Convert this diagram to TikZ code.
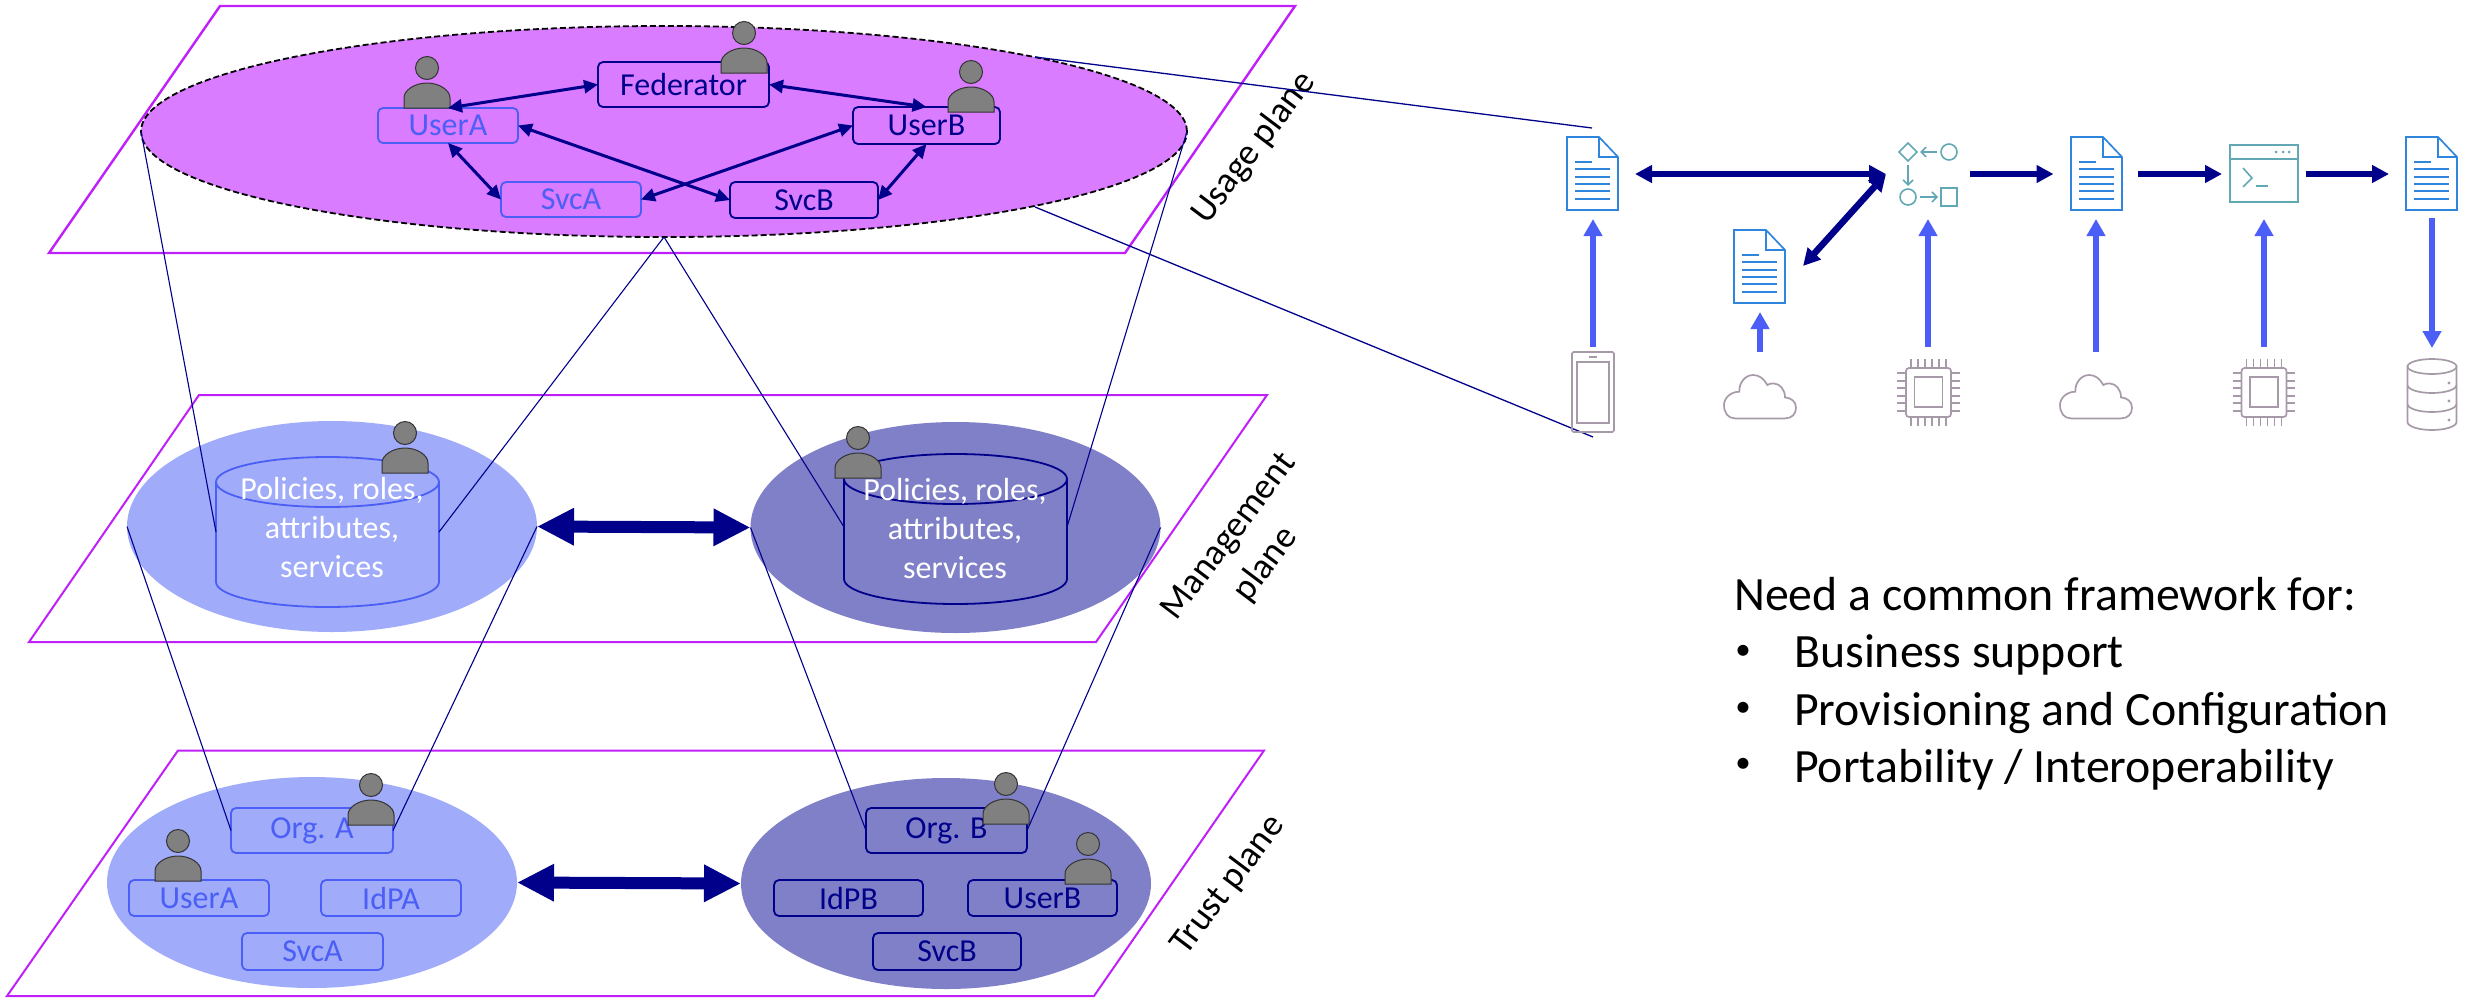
\documentclass[tikz,border=0pt]{standalone}
\usepackage{fontspec}
\setmainfont{Carlito}
\usetikzlibrary{arrows.meta,shapes.geometric}
\definecolor{planec}{HTML}{BF20FA}
\definecolor{usagefill}{HTML}{D97CFF}
\definecolor{lightfill}{HTML}{A0ABF9}
\definecolor{darkfill}{HTML}{8080C8}
\definecolor{navy}{HTML}{00008B}
\definecolor{bluea}{HTML}{4B5EF5}
\definecolor{docblue}{HTML}{2F86DC}
\definecolor{tealc}{HTML}{62A8B4}
\definecolor{greyc}{HTML}{A79AA8}
\tikzset{
  plane/.style={draw=planec,line width=2.4pt,line join=miter},
  regionl/.style={ellipse,fill=lightfill,inner sep=0pt,outer sep=0pt,minimum width=410pt,minimum height=211pt},
  regiond/.style={ellipse,fill=darkfill,inner sep=0pt,outer sep=0pt,minimum width=410pt,minimum height=211pt},
  boxl/.style={draw=bluea,line width=1.8pt,rounded corners=5pt,inner sep=0pt,outer sep=0pt,text=bluea,font=\fontsize{32}{36}\selectfont},
  boxd/.style={draw=navy,line width=1.8pt,rounded corners=5pt,inner sep=0pt,outer sep=0pt,text=navy,font=\fontsize{32}{36}\selectfont},
  thinline/.style={draw=navy,line width=1.1pt},
  linkarrow/.style={draw=navy,line width=3pt,{Triangle[length=14pt,width=13pt]}-{Triangle[length=14pt,width=13pt]}},
  bigdouble/.style={draw=navy,line width=12pt,{Triangle[length=37pt,width=35pt]}-{Triangle[length=37pt,width=35pt]}},
  flowdouble/.style={draw=navy,line width=6.5pt,{Triangle[length=17pt,width=17pt]}-{Triangle[length=17pt,width=17pt]}},
  flowone/.style={draw=navy,line width=6.5pt,-{Triangle[length=17pt,width=17pt]}},
  feed/.style={draw=bluea,line width=6.5pt,-{Triangle[length=17pt,width=18pt]}},
  planelabel/.style={font=\fontsize{36.5}{46}\selectfont,align=center,text=black,inner sep=0pt},
  persona/.style={fill=gray,draw=black!80,line width=1pt},
  iconline/.style={draw=greyc,line width=1.7pt},
  docline/.style={draw=docblue,line width=1.7pt},
  tealline/.style={draw=tealc,line width=1.6pt},
  tealarrow/.style={draw=tealc,line width=1.6pt,-{Straight Barb[length=5pt,width=10pt]}},
  cyltext/.style={text=white,font=\fontsize{32}{39}\selectfont,align=center,inner sep=0pt},
  bigtext/.style={anchor=base west,inner sep=0pt,font=\fontsize{47.8}{56}\selectfont},
  bullettext/.style={anchor=center,inner sep=0pt,font=\fontsize{31}{36}\selectfont}
}
\newcommand{\personat}[2]{%
  \begin{scope}[shift={(#1,#2)}]
    \draw[persona] (-23,0) -- (-23,-10) .. controls (-23,-18) and (-12,-25) .. (0,-25) .. controls (12,-25) and (23,-18) .. (23,-10) -- (23,0) -- cycle;
    \draw[persona] (0,-40) circle [radius=11.5];
  \end{scope}}
\newcommand{\docat}[2]{%
  \begin{scope}[shift={(#1,#2)}]
    \draw[docline] (0,0) -- (32,0) -- (51,20) -- (51,73) -- (0,73) -- cycle;
    \draw[docline] (32,0) -- (32,20) -- (51,20);
    \draw[docline] (8,25) -- (25,25);
    \foreach \ly in {32,40,47,54,62} {\draw[docline] (8,\ly) -- (43,\ly);}
  \end{scope}}
\newcommand{\cloudat}[2]{%
  \begin{scope}[shift={(#1,#2)}]
    \draw[iconline] (-25,21.7) -- (25,21.7) .. controls (32,21.7) and (36,17) .. (36,11) .. controls (36,5) and (31,1) .. (25,0.7) .. controls (25,-7) and (20,-13.3) .. (13.3,-13.3) .. controls (11,-13.3) and (9,-12.8) .. (7.3,-11.7) .. controls (4,-18) and (-1,-21.7) .. (-6.7,-21.7) .. controls (-15,-21.7) and (-21,-14) .. (-20.7,-5) .. controls (-29,-5) and (-36,1) .. (-36,8.3) .. controls (-36,16) and (-32,21.7) .. (-25,21.7) -- cycle;
  \end{scope}}
\newcommand{\chipat}[2]{%
  \begin{scope}[shift={(#1,#2)}]
    \draw[iconline,rounded corners=3pt] (-22.5,-24.5) rectangle (22.5,24.5);
    \draw[iconline] (-14,-15.5) rectangle (14,14.5);
    \foreach \p in {-17.5,-10.5,-3.5,3.5,10.5,17.5} {
      \draw[iconline] (\p,-33.5) -- (\p,-24.5);
      \draw[iconline] (\p,24.5) -- (\p,33.5);
    }
    \foreach \p in {-19.5,-11.5,-4.5,3.5,10.5,18.5} {
      \draw[iconline] (-31.5,\p) -- (-22.5,\p);
      \draw[iconline] (22.5,\p) -- (31,\p);
    }
  \end{scope}}
\newcommand{\lowerarc}[4]{% centre x, y, rx, ry
  ({#1-#3},#2) .. controls ({#1-#3},{#2+0.552*#4}) and ({#1-0.552*#3},{#2+#4}) .. (#1,{#2+#4}) .. controls ({#1+0.552*#3},{#2+#4}) and ({#1+#3},{#2+0.552*#4}) .. ({#1+#3},#2)}
\begin{document}
\begin{tikzpicture}[x=1pt,y=-1pt]
\useasboundingbox (0,0) rectangle (2473,997);
% planes
\draw[plane] (220,6) -- (1295,6) -- (1125,253) -- (49,253) -- cycle;
\draw[plane,line width=2pt] (199,395) -- (1267,395) -- (1096,642) -- (29,642) -- cycle;
\draw[plane,line width=2pt] (178,750.5) -- (1264,750.5) -- (1094,996) -- (7,996) -- cycle;
% regions
\node[ellipse,fill=usagefill,draw=black,line width=1.8pt,dash pattern=on 6pt off 3pt,inner sep=0pt,outer sep=0pt,minimum width=1046pt,minimum height=211pt] (eu) at (664,131.5) {};
\node[regionl] (ma) at (332,526.5) {};
\node[regiond] (mb) at (955.5,527.5) {};
\node[regionl] (ta) at (312,882.5) {};
\node[regiond] (tb) at (946,883.5) {};
% cylinders
\draw[draw=bluea,line width=1.8pt] (327.5,482) circle [x radius=111.5,y radius=25];
\draw[draw=bluea,line width=1.8pt] (216,482) -- (216,582) \lowerarc{327.5}{582}{111.5}{25} -- (439,482);
\draw[draw=navy,line width=1.8pt] (955.5,479) circle [x radius=111.5,y radius=25];
\draw[draw=navy,line width=1.8pt] (844,479) -- (844,579) \lowerarc{955.5}{579}{111.5}{25} -- (1067,479);
\coordinate (cal) at (216,532);
\coordinate (car) at (439,532);
\coordinate (cbl) at (844,527);
\coordinate (cbr) at (1067,527);
\node[cyltext] (cta) at (332,527) {Policies, roles,\\attributes,\\services};
\node[cyltext] (ctb) at (955,528) {Policies, roles,\\attributes,\\services};
% boxes
\node[boxd,fill=none,minimum width=171pt,minimum height=45pt] (fed) at (683.5,84.5) {Federator};
\node[boxl,minimum width=140pt,minimum height=35pt] (ua) at (448,125.5) {UserA};
\node[boxd,minimum width=147pt,minimum height=37pt] (ub) at (926.5,125.5) {UserB};
\node[boxl,minimum width=140pt,minimum height=35pt] (sa) at (571,199.5) {SvcA};
\node[boxd,minimum width=148pt,minimum height=36pt] (sb) at (804,200) {SvcB};
\node[boxl,minimum width=162pt,minimum height=45pt] (oa) at (312,830.5) {Org. A};
\node[boxl,minimum width=140pt,minimum height=36pt] (tua) at (199,898) {UserA};
\node[boxl,minimum width=140pt,minimum height=36pt] (ida) at (391,898) {IdPA};
\node[boxl,minimum width=141pt,minimum height=37pt] (tsa) at (312.5,951.5) {SvcA};
\node[boxd,minimum width=161pt,minimum height=45pt] (ob) at (946.5,830.5) {Org. B};
\node[boxd,minimum width=149pt,minimum height=36pt] (idb) at (848.5,898) {IdPB};
\node[boxd,minimum width=149pt,minimum height=36pt] (tub) at (1042.5,898) {UserB};
\node[boxd,minimum width=148pt,minimum height=37pt] (tsb) at (947,951.5) {SvcB};
% persons
\personat{427}{108}
\personat{744}{73}
\personat{971}{112}
\personat{405}{473}
\personat{858}{478}
\personat{371}{825}
\personat{178}{881}
\personat{1006}{824}
\personat{1088}{884}
% links on usage plane
\draw[linkarrow] (ua.north) -- (fed.west);
\draw[linkarrow] (fed.east) -- (ub.north);
\draw[linkarrow] (ua.east) -- (sb.west);
\draw[linkarrow] (ub.west) -- (sa.east);
\draw[linkarrow] (ua.south) -- (sa.west);
\draw[linkarrow] (ub.south) -- (sb.east);
% thin projection lines
\coordinate (ebot) at (664,237);
\draw[thinline] (eu.west) -- (cal);
\draw[thinline] (ebot) -- (car);
\draw[thinline] (ebot) -- (cbl);
\draw[thinline] (eu.east) -- (cbr);
\draw[thinline] (ma.west) -- (oa.west);
\draw[thinline] (ma.east) -- (oa.east);
\draw[thinline] (mb.west) -- (ob.west);
\draw[thinline] (mb.east) -- (ob.east);
% big arrows
\draw[bigdouble] (ma.east) -- (mb.west);
\draw[bigdouble] (ta.east) -- (tb.west);
% plane labels
\node[planelabel,rotate=53] (lu) at (1254,148) {Usage plane};
\node[planelabel,rotate=53] (lm) at (1248,551) {Management\\plane};
\node[planelabel,rotate=53] (lt) at (1228,885) {Trust plane};
% zoom lines
\coordinate (zt) at (1592,128);
\coordinate (zb) at (1593,437);
\coordinate (es1) at (1035,57);
\coordinate (es2) at (1035,207);
\draw[thinline,line width=1.3pt] (es1) -- (zt);
\draw[thinline,line width=1.3pt] (es2) -- (zb);
% flow icons
\docat{1567}{137}
\docat{1734}{230}
\docat{2071}{137}
\docat{2406}{137}
\coordinate (d1) at (1635,174);
\coordinate (fl) at (1886,174);
\coordinate (d2) at (1803,266);
\coordinate (fr) at (1970,174);
\coordinate (d3l) at (2053.5,174);
\coordinate (d3r) at (2138,174);
\coordinate (tl) at (2222,174);
\coordinate (tr) at (2305.5,174);
\coordinate (d4l) at (2389,174);
\draw[flowdouble] (d1) -- (fl);
\draw[flowdouble] (d2) -- (fl);
\draw[flowone] (fr) -- (d3l);
\draw[flowone] (d3r) -- (tl);
\draw[flowone] (tr) -- (d4l);
% process icon
\draw[tealline] (1908,143) -- (1917,152) -- (1908,161) -- (1899,152) -- cycle;
\draw[tealline] (1949,152) circle [radius=8];
\draw[tealarrow] (1937,152) -- (1920,152);
\draw[tealarrow] (1908,165) -- (1908,186);
\draw[tealline] (1908,197) circle [radius=8];
\draw[tealarrow] (1920,197) -- (1938,197);
\draw[tealline] (1941,188) rectangle (1957,206);
% terminal icon
\draw[tealline] (2230,145) rectangle (2298,202);
\draw[tealline] (2230,159) -- (2298,159);
\fill[tealc] (2276,152) circle [radius=1.5] (2283,152) circle [radius=1.5] (2289,152) circle [radius=1.5];
\draw[tealline] (2243,168) -- (2252,178) -- (2243,187);
\draw[tealline] (2256,186) -- (2268,186);
% blue feeders
\coordinate (p1) at (1593,347);
\coordinate (q1) at (1593,219);
\coordinate (p2) at (1760,352);
\coordinate (q2) at (1760,312);
\coordinate (p3) at (1928,347);
\coordinate (q3) at (1928,219);
\coordinate (p4) at (2096,352);
\coordinate (q4) at (2096,219);
\coordinate (p5) at (2264,347);
\coordinate (q5) at (2264,219);
\coordinate (p6) at (2432,218);
\coordinate (q6) at (2432,348);
\draw[feed] (p1) -- (q1);
\draw[feed] (p2) -- (q2);
\draw[feed] (p3) -- (q3);
\draw[feed] (p4) -- (q4);
\draw[feed] (p5) -- (q5);
\draw[feed] (p6) -- (q6);
% bottom icons
\draw[iconline,rounded corners=1.5pt] (1572,352) rectangle (1614,432);
\draw[iconline] (1577,362) rectangle (1609,423);
\draw[iconline] (1589,357) -- (1597,357);
\cloudat{1760}{396.7}
\chipat{1928.5}{392.5}
\cloudat{2096}{396.7}
\chipat{2264}{392.5}
% database
\draw[iconline] (2432,366.5) circle [x radius=24.5,y radius=7.5];
\draw[iconline] (2407.5,366.5) -- (2407.5,385) \lowerarc{2432}{385}{24.5}{8} -- (2456.5,366.5);
\draw[iconline] \lowerarc{2432}{404}{24.5}{8};
\draw[iconline] (2407.5,385) -- (2407.5,422) \lowerarc{2432}{422}{24.5}{8} -- (2456.5,385);
\fill[greyc] (2449,383) circle [radius=1.6] (2449,401) circle [radius=1.6] (2449,420) circle [radius=1.6];
% text
\node[bigtext] (t0) at (1734,610) {Need a common framework for:};
\node[bullettext] (b1) at (1743,652) {•};
\node[bigtext] (t1) at (1794,667) {Business support};
\node[bullettext] (b2) at (1743,709) {•};
\node[bigtext] (t2) at (1794,725) {Provisioning and Configuration};
\node[bullettext] (b3) at (1743,765) {•};
\node[bigtext] (t3) at (1794,782) {Portability / Interoperability};
\end{tikzpicture}
\end{document}
